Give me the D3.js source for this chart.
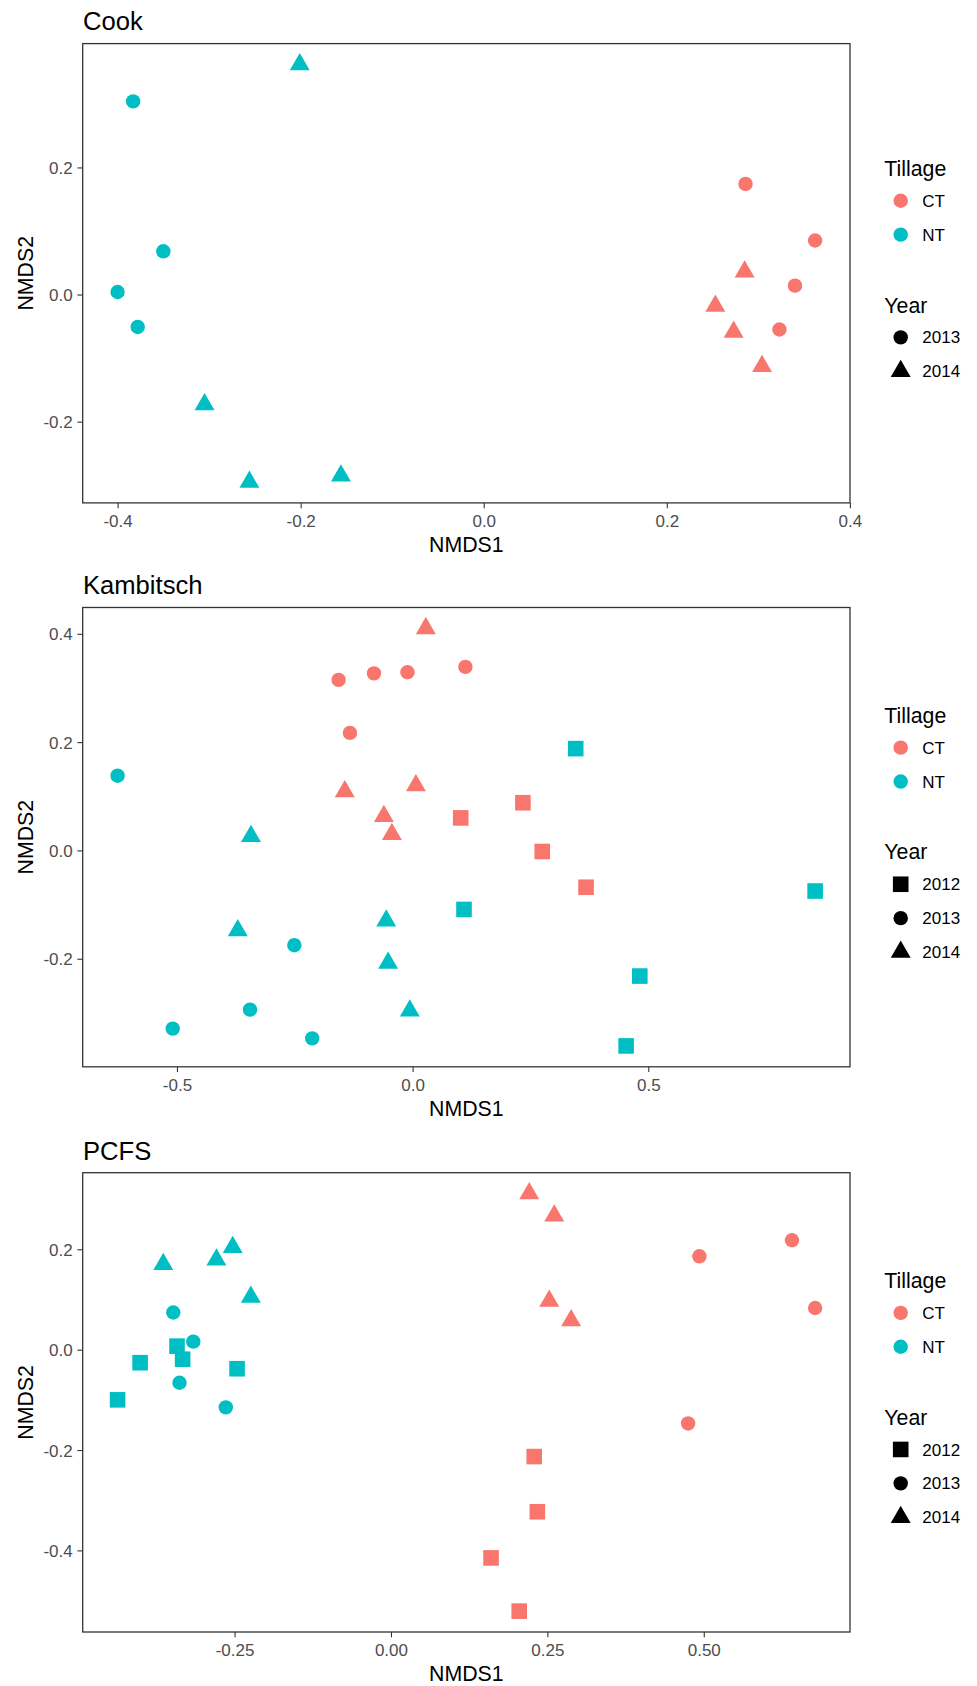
<!DOCTYPE html>
<html>
<head>
<meta charset="utf-8">
<script src="https://cdn.jsdelivr.net/npm/d3@7"></script>
<style>
  body { margin: 0; background: #fff; }
  svg { display: block; font-family: "Liberation Sans", Arial, sans-serif; }
</style>
</head>
<body>
<svg id="chart" width="977" height="1686"></svg>
<script>
const tillageLevels = ['CT', 'NT'];
const tillageColors = ['#F8766D', '#00BFC4'];
const yearLevels = [2012, 2013, 2014];

// each point: [NMDS1, NMDS2, tillage, year]
const cookPoints = [
  [-0.383, 0.304, 'NT', 2013], [-0.350, 0.068, 'NT', 2013], [-0.400, 0.004, 'NT', 2013], [-0.378, -0.051, 'NT', 2013],
  [-0.201, 0.362, 'NT', 2014], [-0.305, -0.173, 'NT', 2014], [-0.256, -0.295, 'NT', 2014], [-0.156, -0.285, 'NT', 2014],
  [0.286, 0.174, 'CT', 2013], [0.362, 0.085, 'CT', 2013], [0.340, 0.014, 'CT', 2013], [0.323, -0.055, 'CT', 2013],
  [0.285, 0.036, 'CT', 2014], [0.253, -0.018, 'CT', 2014], [0.273, -0.059, 'CT', 2014], [0.304, -0.113, 'CT', 2014]
];

const kambitschPoints = [
  [-0.157, 0.315, 'CT', 2013], [-0.082, 0.327, 'CT', 2013], [-0.011, 0.329, 'CT', 2013], [0.112, 0.339, 'CT', 2013], [-0.133, 0.217, 'CT', 2013],
  [0.028, 0.410, 'CT', 2014], [-0.144, 0.109, 'CT', 2014], [0.007, 0.120, 'CT', 2014], [-0.061, 0.063, 'CT', 2014], [-0.044, 0.030, 'CT', 2014],
  [0.102, 0.060, 'CT', 2012], [0.234, 0.088, 'CT', 2012], [0.275, -0.002, 'CT', 2012], [0.368, -0.068, 'CT', 2012],
  [0.109, -0.109, 'NT', 2012], [0.346, 0.188, 'NT', 2012], [0.854, -0.075, 'NT', 2012], [0.482, -0.232, 'NT', 2012], [0.453, -0.361, 'NT', 2012],
  [-0.626, 0.138, 'NT', 2013], [-0.251, -0.175, 'NT', 2013], [-0.345, -0.294, 'NT', 2013], [-0.509, -0.329, 'NT', 2013], [-0.213, -0.347, 'NT', 2013],
  [-0.343, 0.026, 'NT', 2014], [-0.371, -0.148, 'NT', 2014], [-0.056, -0.130, 'NT', 2014], [-0.052, -0.208, 'NT', 2014], [-0.006, -0.296, 'NT', 2014]
];

const pcfsPoints = [
  [-0.364, 0.170, 'NT', 2014], [-0.279, 0.179, 'NT', 2014], [-0.253, 0.204, 'NT', 2014], [-0.224, 0.105, 'NT', 2014],
  [-0.348, 0.074, 'NT', 2013], [-0.316, 0.016, 'NT', 2013], [-0.338, -0.066, 'NT', 2013], [-0.264, -0.115, 'NT', 2013],
  [-0.342, 0.007, 'NT', 2012], [-0.333, -0.019, 'NT', 2012], [-0.401, -0.026, 'NT', 2012], [-0.246, -0.038, 'NT', 2012], [-0.437, -0.100, 'NT', 2012],
  [0.221, 0.311, 'CT', 2014], [0.261, 0.267, 'CT', 2014], [0.253, 0.097, 'CT', 2014], [0.288, 0.058, 'CT', 2014],
  [0.493, 0.186, 'CT', 2013], [0.641, 0.218, 'CT', 2013], [0.678, 0.083, 'CT', 2013], [0.475, -0.147, 'CT', 2013],
  [0.229, -0.213, 'CT', 2012], [0.234, -0.323, 'CT', 2012], [0.160, -0.415, 'CT', 2012], [0.205, -0.521, 'CT', 2012]
];

const cookTicksX = [-0.4, -0.2, 0, 0.2, 0.4];
const cookLabelsX = ['-0.4', '-0.2', '0.0', '0.2', '0.4'];
const cookTicksY = [-0.2, 0, 0.2];
const cookLabelsY = ['-0.2', '0.0', '0.2'];

const kambitschTicksX = [-0.5, 0, 0.5];
const kambitschLabelsX = ['-0.5', '0.0', '0.5'];
const kambitschTicksY = [-0.2, 0, 0.2, 0.4];
const kambitschLabelsY = ['-0.2', '0.0', '0.2', '0.4'];

const pcfsTicksX = [-0.25, 0, 0.25, 0.5];
const pcfsLabelsX = ['-0.25', '0.00', '0.25', '0.50'];
const pcfsTicksY = [-0.4, -0.2, 0, 0.2];
const pcfsLabelsY = ['-0.4', '-0.2', '0.0', '0.2'];

const panels = [
  { title: 'Cook', points: cookPoints, top: 43.6, tx: cookTicksX, lx: cookLabelsX, ty: cookTicksY, ly: cookLabelsY, years: [2013, 2014] },
  { title: 'Kambitsch', points: kambitschPoints, top: 607.5, tx: kambitschTicksX, lx: kambitschLabelsX, ty: kambitschTicksY, ly: kambitschLabelsY, years: [2012, 2013, 2014] },
  { title: 'PCFS', points: pcfsPoints, top: 1172.7, tx: pcfsTicksX, lx: pcfsLabelsX, ty: pcfsTicksY, ly: pcfsLabelsY, years: [2012, 2013, 2014] }
];

const panelLeft = 82.7, panelRight = 850, panelHeight = 459.3;
const tickColor = '#333333', labelColor = '#4D4D4D';

// ggplot-like shapes: 2012 square, 2013 circle, 2014 triangle
const shapeTypes = {
  2012: { draw(ctx) { ctx.rect(-7.8, -7.8, 15.6, 15.6); } },
  2013: { draw(ctx) { ctx.moveTo(7.2, 0); ctx.arc(0, 0, 7.2, 0, 2 * Math.PI); } },
  2014: { draw(ctx) {
    const a = 7.4;
    ctx.moveTo(0, -1.555 * a);
    ctx.lineTo(1.347 * a, 0.778 * a);
    ctx.lineTo(-1.347 * a, 0.778 * a);
    ctx.closePath();
  } }
};

const color = d3.scaleOrdinal().domain(tillageLevels).range(tillageColors);

// 5% expansion like ggplot's continuous default
function expand(ext) {
  const pad = (ext[1] - ext[0]) * 0.05;
  return [ext[0] - pad, ext[1] + pad];
}

const svg = d3.select('#chart');

panels.forEach((p) => {
  const bottom = p.top + panelHeight;
  const x = d3.scaleLinear().domain(expand(d3.extent(p.points, (d) => d[0]))).range([panelLeft, panelRight]);
  const y = d3.scaleLinear().domain(expand(d3.extent(p.points, (d) => d[1]))).range([bottom, p.top]);

  const g = svg.append('g');

  // Title
  g.append('text')
    .attr('x', 83)
    .attr('y', p.top - 13.2)
    .attr('font-size', 25.6)
    .attr('fill', '#000')
    .text(p.title);

  // Axes
  const xAxis = g.append('g')
    .attr('transform', `translate(0,${bottom})`)
    .call(d3.axisBottom(x).tickValues(p.tx).tickFormat((d, i) => p.lx[i]).tickSize(5.3).tickPadding(6.4));
  const yAxis = g.append('g')
    .attr('transform', `translate(${panelLeft},0)`)
    .call(d3.axisLeft(y).tickValues(p.ty).tickFormat((d, i) => p.ly[i]).tickSize(5.3).tickPadding(4.7));

  [xAxis, yAxis].forEach((ax) => {
    ax.select('.domain').remove();
    ax.attr('font-family', null).attr('font-size', null);
    ax.selectAll('line').attr('stroke', tickColor).attr('stroke-width', 1.1);
    ax.selectAll('text').attr('fill', labelColor).attr('font-size', 17);
  });
  yAxis.selectAll('text').attr('dy', '0.36em');

  // Points
  g.append('g')
    .selectAll('path')
    .data(p.points)
    .join('path')
    .attr('transform', (d) => `translate(${x(d[0])},${y(d[1])})`)
    .attr('d', (d) => d3.symbol(shapeTypes[d[3]])())
    .attr('fill', (d) => color(d[2]));

  // Panel border
  g.append('rect')
    .attr('x', panelLeft)
    .attr('y', p.top)
    .attr('width', panelRight - panelLeft)
    .attr('height', panelHeight)
    .attr('fill', 'none')
    .attr('stroke', tickColor)
    .attr('stroke-width', 1.3);

  // Axis titles
  g.append('text')
    .attr('x', (panelLeft + panelRight) / 2)
    .attr('y', bottom + 49.4)
    .attr('text-anchor', 'middle')
    .attr('font-size', 21.3)
    .text('NMDS1');
  g.append('text')
    .attr('transform', `translate(32.5,${(p.top + bottom) / 2}) rotate(-90)`)
    .attr('text-anchor', 'middle')
    .attr('font-size', 21.3)
    .text('NMDS2');

  // Legend
  const mid = (p.top + bottom) / 2;
  const step = 33.9;
  const titleY = mid - 97.2 - 17 * (p.years.length - 2);
  const legend = g.append('g');

  legend.append('text')
    .attr('x', 884.3).attr('y', titleY)
    .attr('font-size', 21.3)
    .text('Tillage');

  tillageLevels.forEach((t, i) => {
    const ky = titleY + 24.7 + i * step;
    legend.append('path')
      .attr('transform', `translate(900.7,${ky})`)
      .attr('d', d3.symbol(shapeTypes[2013])())
      .attr('fill', color(t));
    legend.append('text')
      .attr('x', 922.3).attr('y', ky).attr('dy', '0.36em')
      .attr('font-size', 17)
      .text(t);
  });

  const yearTitleY = titleY + 24.7 + step + 77.9;
  legend.append('text')
    .attr('x', 884.3).attr('y', yearTitleY)
    .attr('font-size', 21.3)
    .text('Year');

  p.years.forEach((yr, i) => {
    const ky = yearTitleY + 24.8 + i * step;
    legend.append('path')
      .attr('transform', `translate(900.7,${ky})`)
      .attr('d', d3.symbol(shapeTypes[yr])())
      .attr('fill', '#000');
    legend.append('text')
      .attr('x', 922.3).attr('y', ky).attr('dy', '0.36em')
      .attr('font-size', 17)
      .text(yr);
  });
});
</script>
</body>
</html>
